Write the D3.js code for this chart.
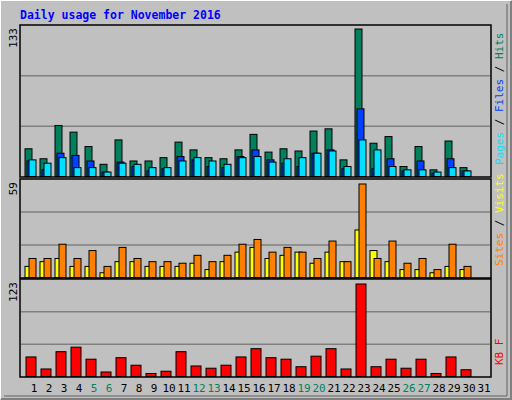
<!DOCTYPE html>
<html><head><meta charset="utf-8">
<script src="https://cdn.jsdelivr.net/npm/d3@7"></script>
<style>body{margin:0;background:#fff}text{font-family:"DejaVu Sans Mono",monospace;}</style>
</head><body>
<svg id="chart" width="512" height="400"></svg>
<script>
'use strict';

var days = d3.range(1, 32);
var weekends = [5, 6, 12, 13, 19, 20, 26, 27];

var hits  = [25,16,46,40,27,11,33,14,14,17,31,24,17,16,24,38,22,25,23,41,43,15,133,30,36,9,27,6,32,8,0];
var files = [14,6,21,19,14,4,13,9,5,7,18,15,9,8,18,24,15,12,9,21,24,7,61,7,16,5,14,3,16,5,0];
var pages = [15,12,17,8,8,4,12,11,8,8,14,17,14,11,17,18,13,16,17,21,23,9,33,24,9,6,6,4,8,5,0];
var sites  = [7,10,12,7,7,3,10,10,7,7,7,9,5,10,16,19,12,14,16,9,16,10,30,17,10,5,5,3,7,5,0];
var visits = [12,12,21,12,17,7,19,12,10,10,9,14,10,14,21,24,16,19,16,12,23,10,59,12,23,9,12,5,21,7,0];
var kbytes = [26,10,33,39,23,6,25,15,4,7,33,14,11,15,26,37,25,23,13,27,37,10,123,13,23,11,23,4,26,9,0];

var svg = d3.select("#chart");

// outer bevelled frame
svg.append("rect").attr("width", 512).attr("height", 400).attr("fill", "#c0c0c0");
svg.append("path").attr("d", "M0,399V0H511").attr("stroke", "#fff").attr("stroke-width", 2).attr("fill", "none");
svg.append("path").attr("d", "M1,399H511V1").attr("stroke", "#808080").attr("stroke-width", 2).attr("fill", "none");
svg.append("path").attr("d", "M507,4V396H4").attr("stroke", "#606060").attr("stroke-width", 1).attr("fill", "none");

svg.append("text").attr("x", 20).attr("y", 19)
	.attr("fill", "#0000ff").attr("font-size", 11.5).attr("font-weight", "bold")
	.text("Daily usage for November 2016");

var x = d3.scaleBand().domain(days).range([25, 25 + 15 * 31]).padding(0);

var panels = [
	{top: 25, bottom: 177, max: 133, maxY: 29, label: "133",
		series: [{data: hits, color: "#00805c", off: 0, w: 8}, {data: files, color: "#0040ff", off: 2, w: 8}, {data: pages, color: "#00e0ff", off: 4, w: 8}],
		legend: [["Pages", "#00e0ff"], [" / ", "#000"], ["Files", "#0040ff"], [" / ", "#000"], ["Hits", "#00805c"]]},
	{top: 179, bottom: 278, max: 59, maxY: 184, label: "59",
		series: [{data: sites, color: "#ffff00", off: 0, w: 8}, {data: visits, color: "#ff8000", off: 4, w: 8}],
		legend: [["Sites", "#ff8000"], [" / ", "#000"], ["Visits", "#ffff00"]]},
	{top: 279, bottom: 377, max: 123, maxY: 284, label: "123",
		series: [{data: kbytes, color: "#ff0000", off: 1, w: 11}],
		legend: [["KB F", "#ff0000"]]}
];

panels.forEach(function (p) {
	var base = p.bottom - 0.5;
	var y = d3.scaleLinear().domain([0, p.max]).range([base, p.maxY]);
	var g = svg.append("g");

	g.append("rect").attr("x", 20).attr("y", p.top).attr("width", 471).attr("height", p.bottom - p.top)
		.attr("fill", "#c0c0c0").attr("stroke", "#000").attr("stroke-width", 1.5);
	[1, 2].forEach(function (k) {
		var gy = p.bottom - (p.bottom - p.top) * k / 3;
		g.append("line").attr("x1", 21).attr("x2", 490).attr("y1", gy).attr("y2", gy)
			.attr("stroke", "#808080").attr("stroke-width", 1.5);
	});

	p.series.forEach(function (s) {
		g.selectAll(null).data(s.data).enter().append("rect")
			.filter(function (d) { return d > 0; })
			.attr("x", function (d, i) { return x(days[i]) + s.off; })
			.attr("y", function (d) { return y(d); })
			.attr("width", s.w - 1)
			.attr("height", function (d) { return base - y(d); })
			.attr("fill", s.color).attr("stroke", "#000").attr("stroke-width", 1);
	});

	g.append("text").attr("transform", "translate(17," + (p.top + 3) + ") rotate(-90)")
		.attr("text-anchor", "end").attr("font-size", 11).text(p.label);

	var t = g.append("text").attr("transform", "translate(503," + (p.bottom - 12) + ") rotate(-90)")
		.attr("font-size", 11);
	p.legend.forEach(function (l) {
		t.append("tspan").attr("fill", l[1]).text(l[0]);
	});
});

svg.append("g").selectAll("text").data(days).enter().append("text")
	.attr("x", function (d) { return x(d) + 9; })
	.attr("y", 392).attr("text-anchor", "middle").attr("font-size", 11)
	.attr("fill", function (d) { return weekends.indexOf(d) >= 0 ? "#00805c" : "#000"; })
	.text(function (d) { return d; });
</script>
</body></html>
